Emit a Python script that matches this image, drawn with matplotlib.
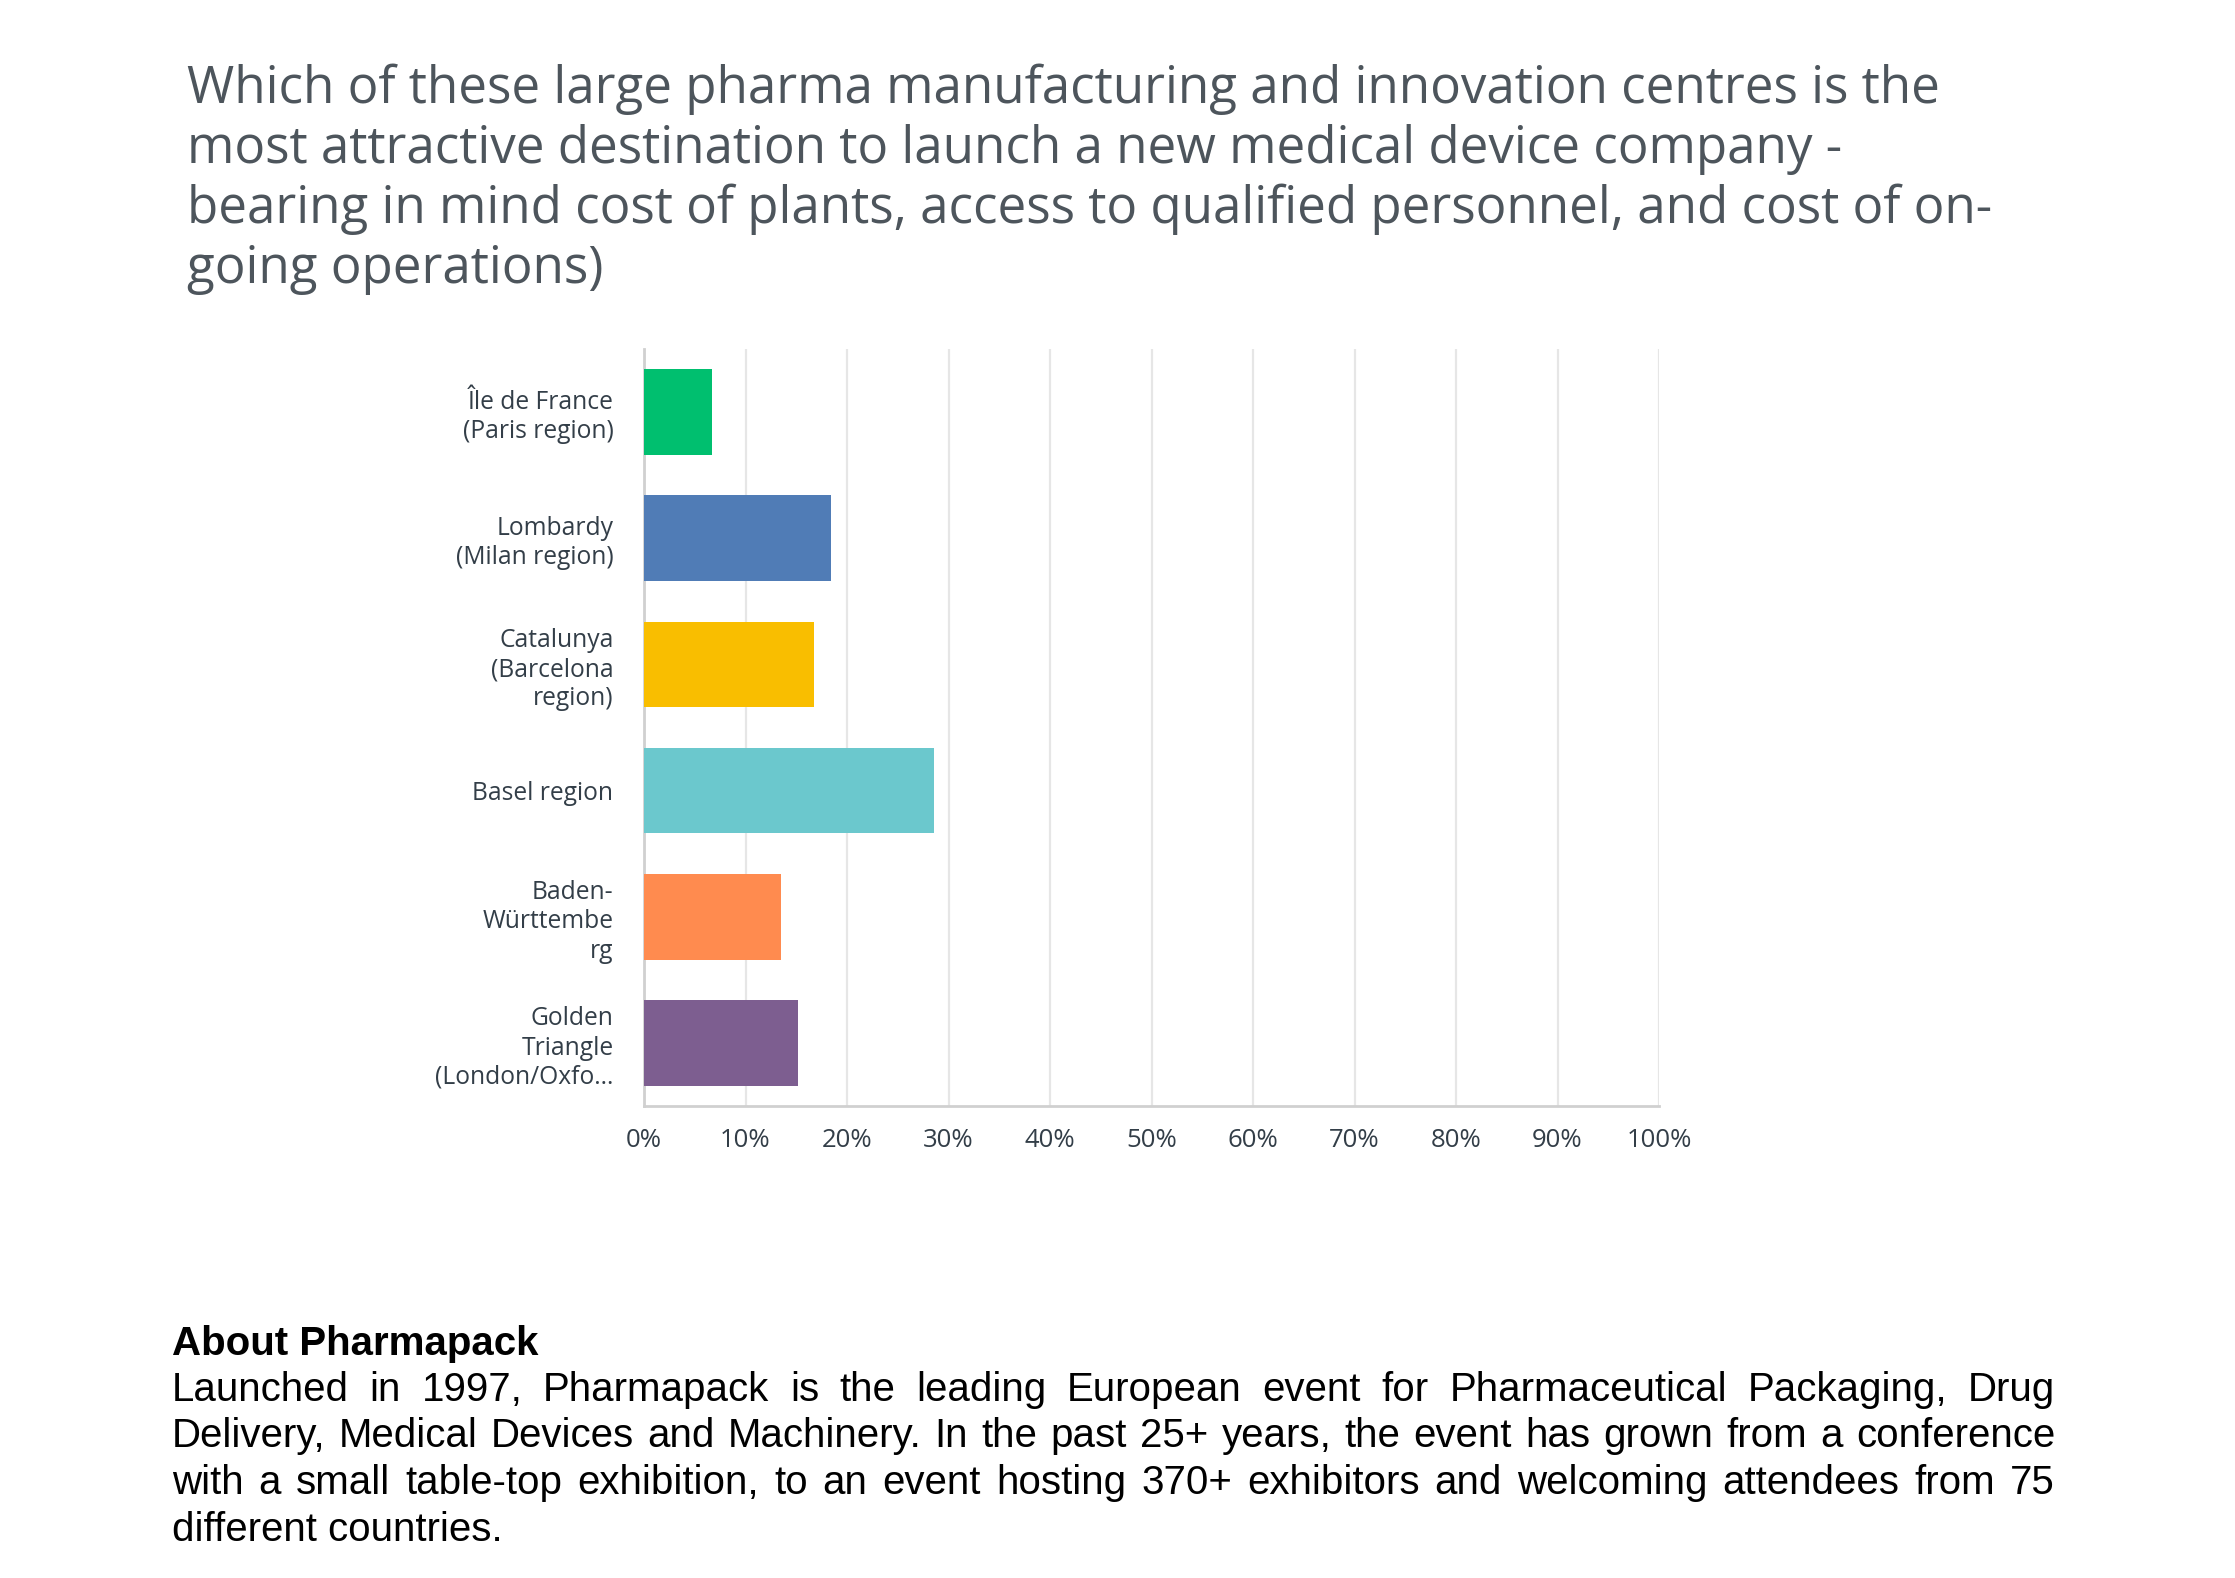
import matplotlib
matplotlib.use("Agg")
import matplotlib.pyplot as plt
from matplotlib.ticker import FixedLocator

# ---- data ----
categories = ["Île de France\n(Paris region)", "Lombardy\n(Milan region)",
              "Catalunya\n(Barcelona\nregion)", "Basel region",
              "Baden-\nWürttembe\nrg", "Golden\nTriangle\n(London/Oxfo..."]
values = [6.7, 18.4, 16.7, 28.6, 13.5, 15.2]
colors = ["#00BF6F", "#507CB6", "#F9BE00", "#6BC8CD", "#FF8B4F", "#7D5E90"]
xticks = [0, 10, 20, 30, 40, 50, 60, 70, 80, 90, 100]
xticklabels = [f"{t}%" for t in xticks]

title = ("Which of these large pharma manufacturing and innovation centres is the\n"
         "most attractive destination to launch a new medical device company -\n"
         "bearing in mind cost of plants, access to qualified personnel, and cost of on-\n"
         "going operations)")
footer_head = "About Pharmapack"
footer_lines = [
    "Launched in 1997, Pharmapack is the leading European event for Pharmaceutical Packaging, Drug",
    "Delivery, Medical Devices and Machinery. In the past 25+ years, the event has grown from a conference",
    "with a small table-top exhibition, to an event hosting 370+ exhibitors and welcoming attendees from 75",
    "different countries.",
]

W, H = 2235, 1578
fig = plt.figure(figsize=(W / 100, H / 100), dpi=100)
fig.patch.set_facecolor("white")

# ---- axes ----
ax = fig.add_axes([644 / W, 1 - 1106 / H, (1659 - 644) / W, (1106 - 349) / H])
ypos = list(range(len(categories)))
ax.barh(ypos, values, height=0.68, color=colors, zorder=3)
ax.set_ylim(len(categories) - 0.5, -0.5)
ax.set_xlim(0, 100)
ax.xaxis.set_major_locator(FixedLocator(xticks))
ax.set_xticklabels(xticklabels)
ax.set_yticks(ypos)
ax.set_yticklabels(categories, ha="right", multialignment="right")
ax.grid(axis="x", color="#e6e6e6", linewidth=1.6, zorder=0)
for s in ["top", "right"]:
    ax.spines[s].set_visible(False)
for s in ["left", "bottom"]:
    ax.spines[s].set_color("#d0d0d0")
    ax.spines[s].set_linewidth(2)
ax.tick_params(axis="both", length=0)
ax.tick_params(axis="y", pad=22)
ax.tick_params(axis="x", pad=16)
for lab in ax.get_yticklabels():
    lab.set_fontfamily("Open Sans")
    lab.set_fontsize(17.7)
    lab.set_color("#333e48")
    lab.set_linespacing(1.22)
for lab in ax.get_xticklabels():
    lab.set_fontfamily("Open Sans")
    lab.set_fontsize(18.5)
    lab.set_color("#333e48")

# ---- title ----
fig.text(187 / W, 1 - 64 / H, title, ha="left", va="top", fontsize=36.8,
         family="Open Sans", color="#4d555c", linespacing=1.22)

# ---- footer ----
fs = 29
fig.text(172 / W, 1 - 1344 / H, footer_head, ha="left", va="center",
         fontsize=fs, family="Liberation Sans", weight="bold", color="black")

renderer = fig.canvas.get_renderer()
x0, x1 = 172, 2055
line_y = [1390, 1436, 1483, 1530]
for i, line in enumerate(footer_lines):
    y = 1 - line_y[i] / H
    if i == len(footer_lines) - 1:
        fig.text(x0 / W, y, line, ha="left", va="center", fontsize=fs,
                 family="Liberation Sans", color="black")
        continue
    words = line.split(" ")
    objs = [fig.text(0, y, w, ha="left", va="center", fontsize=fs,
                     family="Liberation Sans", color="black") for w in words]
    widths = [o.get_window_extent(renderer).width for o in objs]
    gap = (x1 - x0 - sum(widths)) / (len(words) - 1)
    x = x0
    for o, wd in zip(objs, widths):
        o.set_x(x / W)
        x += wd + gap

fig.savefig("out.png", dpi=100, facecolor="white")
